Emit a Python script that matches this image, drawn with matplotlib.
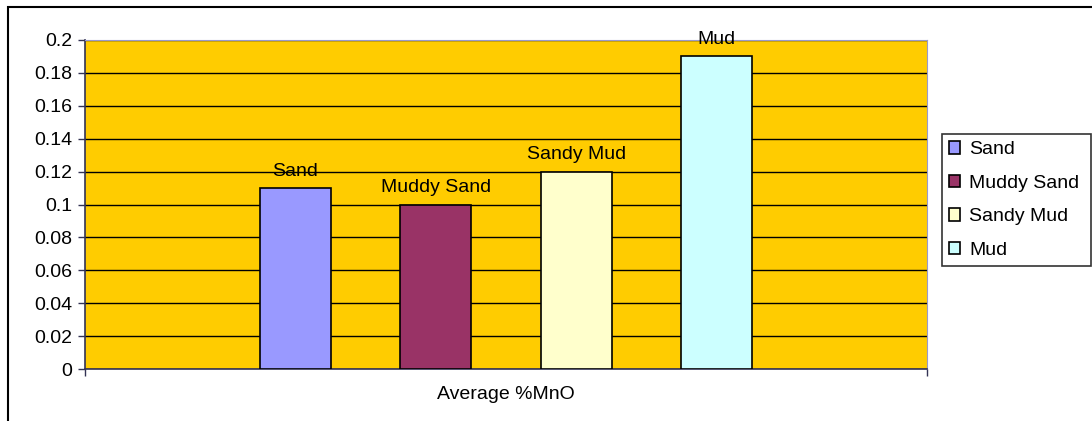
import matplotlib.pyplot as plt
from matplotlib.patches import Rectangle

categories = ["Sand", "Muddy Sand", "Sandy Mud", "Mud"]
values = [0.11, 0.10, 0.12, 0.19]
colors = ["#9999FF", "#993366", "#FFFFCC", "#CCFFFF"]
yticks = [0, 0.02, 0.04, 0.06, 0.08, 0.1, 0.12, 0.14, 0.16, 0.18, 0.2]
ytick_labels = ["0", "0.02", "0.04", "0.06", "0.08", "0.1", "0.12", "0.14", "0.16", "0.18", "0.2"]
xlabel = "Average %MnO"

plt.rcParams["font.family"] = ["Liberation Sans", "DejaVu Sans"]
FS = 14

W, H = 1092, 421
fig = plt.figure(figsize=(W / 100, H / 100), dpi=100)

# outer chart frame
fig.patches.append(Rectangle((8 / W, -0.1), 1.2, 1.1 - 7 / H, transform=fig.transFigure,
                             fill=False, edgecolor="black", linewidth=1.5))

ax = fig.add_axes([85 / W, (H - 369) / H, 842 / W, 329 / H])
ax.set_facecolor("#FFCC00")

x = list(range(len(categories)))
bars = ax.bar(x, values, width=0.507, color=colors, edgecolor="black",
              linewidth=1.2, zorder=3, label=categories)
for xi, v, name in zip(x, values, categories):
    ax.text(xi, v + 0.005, name, ha="center", va="bottom", fontsize=FS, zorder=4)

ax.set_xlim(-1.5, 4.5)
ax.set_ylim(0, 0.2)
ax.set_yticks(yticks)
ax.set_yticklabels(ytick_labels, fontsize=FS)
ax.yaxis.grid(True, color="black", linewidth=1, zorder=1)
ax.set_axisbelow(True)
ax.set_xticks([-1.5, 4.5])
ax.set_xticklabels(["", ""])
ax.tick_params(axis="both", direction="out", length=5, color="#333355", width=1)
ax.tick_params(axis="y", pad=4)
ax.set_xlabel(xlabel, fontsize=FS, labelpad=4)

for side in ["left", "bottom"]:
    ax.spines[side].set_color("#333355")
    ax.spines[side].set_linewidth(1.2)
ax.spines["top"].set_color("#9999CC")
ax.spines["right"].set_color("#9999CC")

leg = ax.legend(handles=bars, labels=categories, loc="center left",
                bbox_to_anchor=(942 / W, (H - 266) / H, (1091 - 942) / W, 132 / H),
                bbox_transform=fig.transFigure, mode="expand",
                fontsize=FS, frameon=True, fancybox=False, edgecolor="black",
                handlelength=0.6, handleheight=0.6, handletextpad=0.45,
                labelspacing=0.85, borderpad=0.35, borderaxespad=0)
leg.get_frame().set_linewidth(1.2)

fig.savefig("out.png", dpi=100)
